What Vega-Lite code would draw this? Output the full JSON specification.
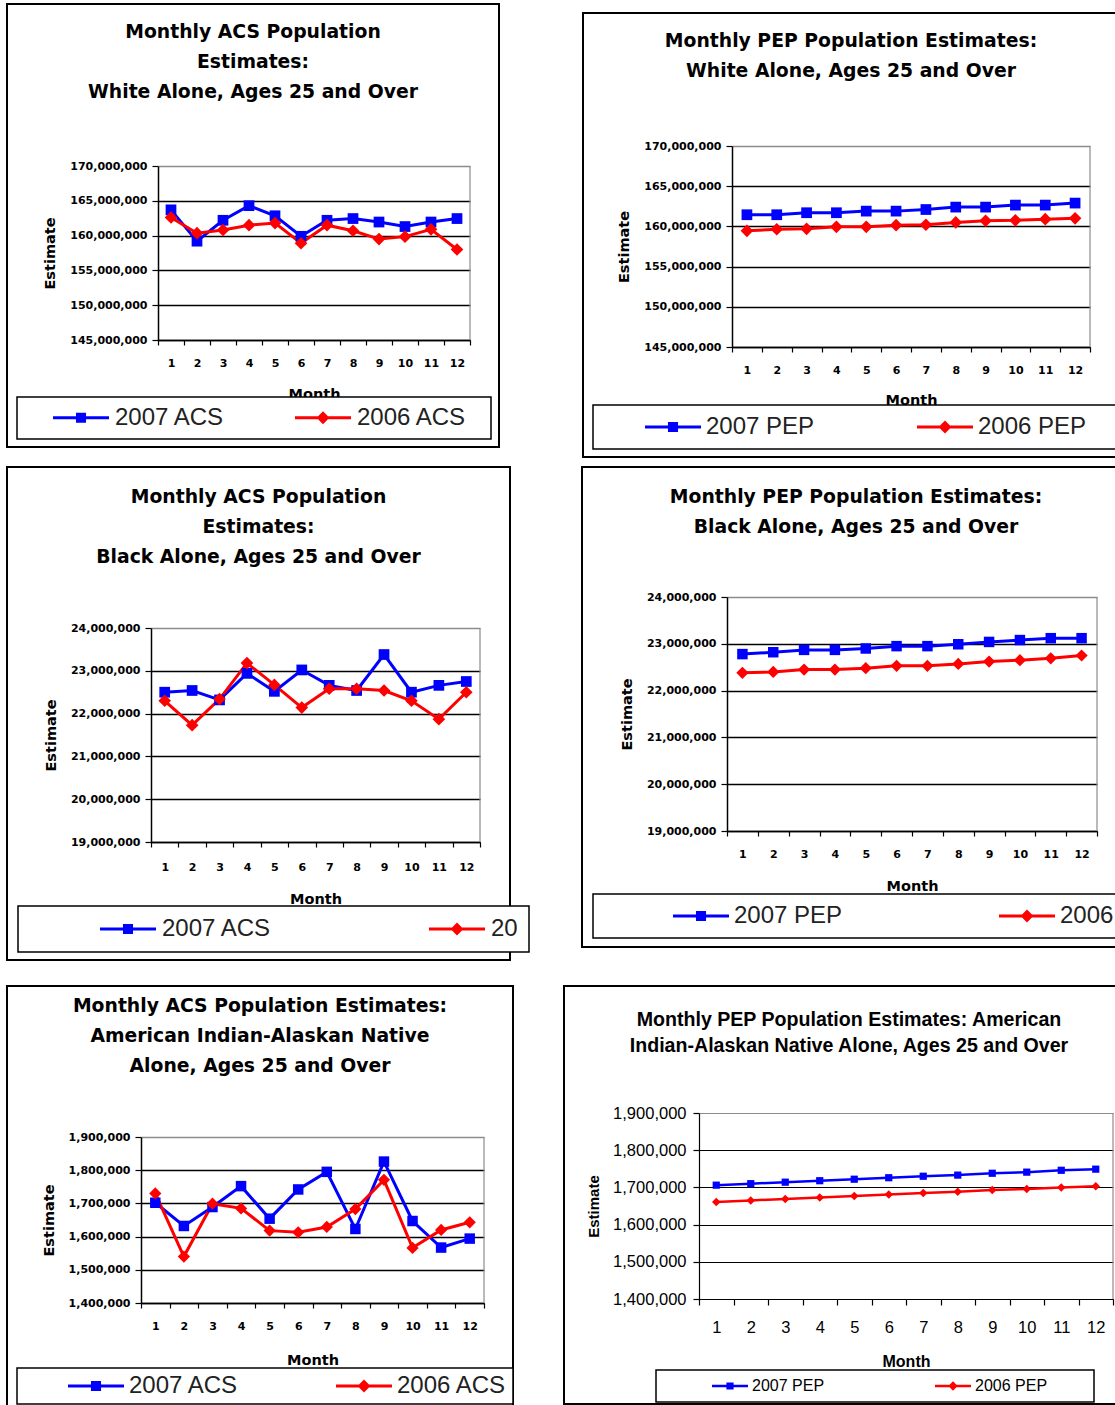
{
  "$schema": "https://vega.github.io/schema/vega-lite/v6.json",
  "padding": {"left": 6, "top": 3, "right": 0, "bottom": 0},
  "background": "#ffffff",
  "datasets": {
    "acsWhite": [
      {"month":1,"series":"2007 ACS","estimate":163700000},{"month":2,"series":"2007 ACS","estimate":159200000},{"month":3,"series":"2007 ACS","estimate":162200000},{"month":4,"series":"2007 ACS","estimate":164300000},{"month":5,"series":"2007 ACS","estimate":162850000},{"month":6,"series":"2007 ACS","estimate":159900000},{"month":7,"series":"2007 ACS","estimate":162200000},{"month":8,"series":"2007 ACS","estimate":162450000},{"month":9,"series":"2007 ACS","estimate":161950000},{"month":10,"series":"2007 ACS","estimate":161300000},{"month":11,"series":"2007 ACS","estimate":161950000},{"month":12,"series":"2007 ACS","estimate":162450000},
      {"month":1,"series":"2006 ACS","estimate":162600000},{"month":2,"series":"2006 ACS","estimate":160350000},{"month":3,"series":"2006 ACS","estimate":160800000},{"month":4,"series":"2006 ACS","estimate":161500000},{"month":5,"series":"2006 ACS","estimate":161800000},{"month":6,"series":"2006 ACS","estimate":158900000},{"month":7,"series":"2006 ACS","estimate":161500000},{"month":8,"series":"2006 ACS","estimate":160700000},{"month":9,"series":"2006 ACS","estimate":159500000},{"month":10,"series":"2006 ACS","estimate":159850000},{"month":11,"series":"2006 ACS","estimate":160900000},{"month":12,"series":"2006 ACS","estimate":158000000}
    ],
    "pepWhite": [
      {"month":1,"series":"2007 PEP","estimate":161450000},{"month":2,"series":"2007 PEP","estimate":161450000},{"month":3,"series":"2007 PEP","estimate":161700000},{"month":4,"series":"2007 PEP","estimate":161700000},{"month":5,"series":"2007 PEP","estimate":161900000},{"month":6,"series":"2007 PEP","estimate":161900000},{"month":7,"series":"2007 PEP","estimate":162100000},{"month":8,"series":"2007 PEP","estimate":162400000},{"month":9,"series":"2007 PEP","estimate":162400000},{"month":10,"series":"2007 PEP","estimate":162650000},{"month":11,"series":"2007 PEP","estimate":162650000},{"month":12,"series":"2007 PEP","estimate":162900000},
      {"month":1,"series":"2006 PEP","estimate":159450000},{"month":2,"series":"2006 PEP","estimate":159650000},{"month":3,"series":"2006 PEP","estimate":159700000},{"month":4,"series":"2006 PEP","estimate":159950000},{"month":5,"series":"2006 PEP","estimate":159950000},{"month":6,"series":"2006 PEP","estimate":160150000},{"month":7,"series":"2006 PEP","estimate":160200000},{"month":8,"series":"2006 PEP","estimate":160500000},{"month":9,"series":"2006 PEP","estimate":160700000},{"month":10,"series":"2006 PEP","estimate":160750000},{"month":11,"series":"2006 PEP","estimate":160900000},{"month":12,"series":"2006 PEP","estimate":161000000}
    ],
    "acsBlack": [
      {"month":1,"series":"2007 ACS","estimate":22500000},{"month":2,"series":"2007 ACS","estimate":22540000},{"month":3,"series":"2007 ACS","estimate":22320000},{"month":4,"series":"2007 ACS","estimate":22940000},{"month":5,"series":"2007 ACS","estimate":22520000},{"month":6,"series":"2007 ACS","estimate":23020000},{"month":7,"series":"2007 ACS","estimate":22660000},{"month":8,"series":"2007 ACS","estimate":22540000},{"month":9,"series":"2007 ACS","estimate":23380000},{"month":10,"series":"2007 ACS","estimate":22500000},{"month":11,"series":"2007 ACS","estimate":22660000},{"month":12,"series":"2007 ACS","estimate":22750000},
      {"month":1,"series":"2006 ACS","estimate":22300000},{"month":2,"series":"2006 ACS","estimate":21730000},{"month":3,"series":"2006 ACS","estimate":22340000},{"month":4,"series":"2006 ACS","estimate":23180000},{"month":5,"series":"2006 ACS","estimate":22670000},{"month":6,"series":"2006 ACS","estimate":22140000},{"month":7,"series":"2006 ACS","estimate":22580000},{"month":8,"series":"2006 ACS","estimate":22580000},{"month":9,"series":"2006 ACS","estimate":22540000},{"month":10,"series":"2006 ACS","estimate":22300000},{"month":11,"series":"2006 ACS","estimate":21870000},{"month":12,"series":"2006 ACS","estimate":22500000}
    ],
    "pepBlack": [
      {"month":1,"series":"2007 PEP","estimate":22780000},{"month":2,"series":"2007 PEP","estimate":22820000},{"month":3,"series":"2007 PEP","estimate":22870000},{"month":4,"series":"2007 PEP","estimate":22870000},{"month":5,"series":"2007 PEP","estimate":22900000},{"month":6,"series":"2007 PEP","estimate":22950000},{"month":7,"series":"2007 PEP","estimate":22950000},{"month":8,"series":"2007 PEP","estimate":22990000},{"month":9,"series":"2007 PEP","estimate":23040000},{"month":10,"series":"2007 PEP","estimate":23080000},{"month":11,"series":"2007 PEP","estimate":23120000},{"month":12,"series":"2007 PEP","estimate":23120000},
      {"month":1,"series":"2006 PEP","estimate":22380000},{"month":2,"series":"2006 PEP","estimate":22400000},{"month":3,"series":"2006 PEP","estimate":22450000},{"month":4,"series":"2006 PEP","estimate":22450000},{"month":5,"series":"2006 PEP","estimate":22480000},{"month":6,"series":"2006 PEP","estimate":22530000},{"month":7,"series":"2006 PEP","estimate":22530000},{"month":8,"series":"2006 PEP","estimate":22570000},{"month":9,"series":"2006 PEP","estimate":22620000},{"month":10,"series":"2006 PEP","estimate":22650000},{"month":11,"series":"2006 PEP","estimate":22690000},{"month":12,"series":"2006 PEP","estimate":22750000}
    ],
    "acsAian": [
      {"month":1,"series":"2007 ACS","estimate":1702000},{"month":2,"series":"2007 ACS","estimate":1632000},{"month":3,"series":"2007 ACS","estimate":1689000},{"month":4,"series":"2007 ACS","estimate":1752000},{"month":5,"series":"2007 ACS","estimate":1654000},{"month":6,"series":"2007 ACS","estimate":1742000},{"month":7,"series":"2007 ACS","estimate":1795000},{"month":8,"series":"2007 ACS","estimate":1623000},{"month":9,"series":"2007 ACS","estimate":1826000},{"month":10,"series":"2007 ACS","estimate":1647000},{"month":11,"series":"2007 ACS","estimate":1567000},{"month":12,"series":"2007 ACS","estimate":1594000},
      {"month":1,"series":"2006 ACS","estimate":1730000},{"month":2,"series":"2006 ACS","estimate":1540000},{"month":3,"series":"2006 ACS","estimate":1699000},{"month":4,"series":"2006 ACS","estimate":1685000},{"month":5,"series":"2006 ACS","estimate":1618000},{"month":6,"series":"2006 ACS","estimate":1613000},{"month":7,"series":"2006 ACS","estimate":1629000},{"month":8,"series":"2006 ACS","estimate":1683000},{"month":9,"series":"2006 ACS","estimate":1771000},{"month":10,"series":"2006 ACS","estimate":1566000},{"month":11,"series":"2006 ACS","estimate":1620000},{"month":12,"series":"2006 ACS","estimate":1643000}
    ],
    "pepAian": [
      {"month":1,"series":"2007 PEP","estimate":1706000},{"month":2,"series":"2007 PEP","estimate":1710000},{"month":3,"series":"2007 PEP","estimate":1714000},{"month":4,"series":"2007 PEP","estimate":1718000},{"month":5,"series":"2007 PEP","estimate":1722000},{"month":6,"series":"2007 PEP","estimate":1726000},{"month":7,"series":"2007 PEP","estimate":1730000},{"month":8,"series":"2007 PEP","estimate":1733000},{"month":9,"series":"2007 PEP","estimate":1738000},{"month":10,"series":"2007 PEP","estimate":1741000},{"month":11,"series":"2007 PEP","estimate":1746000},{"month":12,"series":"2007 PEP","estimate":1749000},
      {"month":1,"series":"2006 PEP","estimate":1661000},{"month":2,"series":"2006 PEP","estimate":1665000},{"month":3,"series":"2006 PEP","estimate":1669000},{"month":4,"series":"2006 PEP","estimate":1673000},{"month":5,"series":"2006 PEP","estimate":1677000},{"month":6,"series":"2006 PEP","estimate":1681000},{"month":7,"series":"2006 PEP","estimate":1685000},{"month":8,"series":"2006 PEP","estimate":1688000},{"month":9,"series":"2006 PEP","estimate":1693000},{"month":10,"series":"2006 PEP","estimate":1696000},{"month":11,"series":"2006 PEP","estimate":1700000},{"month":12,"series":"2006 PEP","estimate":1703000}
    ]
  },
  "vconcat": [
    {
      "vconcat": [
        {
          "hconcat": [
            {
              "width": 492, "height": 443,
              "view": {"stroke": "#000", "strokeWidth": 2},
              "title": {"text": ["Monthly ACS Population", "Estimates:", "White Alone, Ages 25 and Over"], "offset": -98},
              "data": {"name": "acsWhite"},
              "layer": [
                {"mark": {"type": "line", "strokeWidth": 3},
                 "encoding": {
                   "x": {"field": "month", "type": "quantitative", "scale": {"domain": [0.5, 12.5], "range": [151, 463], "nice": false, "zero": false},
                         "axis": {"values": [1,2,3,4,5,6,7,8,9,10,11,12], "offset": -107, "ticks": false, "tickSize": 0, "labelPadding": 17, "grid": false, "title": "Month", "titlePadding": 19}},
                   "y": {"field": "estimate", "type": "quantitative", "scale": {"domain": [145000000, 170000000], "range": [336, 162], "nice": false, "zero": false},
                         "axis": {"values": [145000000,150000000,155000000,160000000,165000000,170000000], "format": ",.0f", "offset": -151, "tickSize": 6, "labelPadding": 5, "grid": true, "gridColor": {"condition": {"test": "datum.value == 170000000", "value": "#8c8c8c"}, "value": "#000"}, "title": "Estimate", "titlePadding": 12}},
                   "color": {"field": "series", "type": "nominal", "scale": {"domain": ["2007 ACS", "2006 ACS"], "range": ["#0000ff", "#ff0000"]},
                         "legend": {"legendX": 10, "legendY": 393, "padding": 9, "clipHeight": 23, "symbolSize": 3136, "symbolOffset": 27, "labelOffset": 6, "columnPadding": 43,
                                    "title": "\u00a0", "titleOrient": "right", "titlePadding": 16, "titleFontSize": 1,
                                    "encoding": {"symbols": {"shape": {"condition": {"test": "datum.index == 1", "value": "M-1,-0.055H1V0.055H-1Z M0,-0.23L0.23,0L0,0.23L-0.23,0Z"}, "value": "M-1,-0.055H1V0.055H-1Z M-0.18,-0.18H0.18V0.18H-0.18Z"}, "fill": {"condition": {"test": "datum.index == 1", "value": "#ff0000"}, "value": "#0000ff"}, "fillOpacity": {"value": 1}, "opacity": {"value": 1}, "strokeWidth": {"value": 0}, "size": {"value": 3136}}}}}
                 }},
                {"transform": [{"filter": "datum.series == '2007 ACS'"}],
                 "mark": {"type": "point", "filled": true, "opacity": 1, "shape": "square", "size": 115},
                 "encoding": {
                   "x": {"field": "month", "type": "quantitative", "axis": null},
                   "y": {"field": "estimate", "type": "quantitative", "axis": null},
                   "color": {"field": "series", "type": "nominal", "legend": null}
                 }},
                {"transform": [{"filter": "datum.series == '2006 ACS'"}],
                 "mark": {"type": "point", "filled": true, "opacity": 1, "shape": "diamond", "size": 160},
                 "encoding": {
                   "x": {"field": "month", "type": "quantitative", "axis": null},
                   "y": {"field": "estimate", "type": "quantitative", "axis": null},
                   "color": {"field": "series", "type": "nominal", "legend": null}
                 }},
                {"data": {"values": [{}]},
                 "mark": {"type": "rule", "color": "#8c8c8c", "strokeWidth": 1.2},
                 "encoding": {
                   "x": {"datum": 12.5, "type": "quantitative", "axis": {"orient": "bottom", "values": [0.5,1.5,2.5,3.5,4.5,5.5,6.5,7.5,8.5,9.5,10.5,11.5,12.5], "offset": -107, "labels": false, "domain": false, "grid": false, "ticks": true, "tickSize": 5, "title": null}},
                   "y": {"datum": 145000000, "type": "quantitative", "axis": null},
                   "y2": {"datum": 170000000}
                 }}
              ],
              "resolve": {"axis": {"x": "independent", "y": "independent"}}
            },
            {
              "vconcat": [
                {"width": 1, "height": 1, "data": {"values": []}, "mark": "point"},
                {
                  "width": 536, "height": 444,
                  "view": {"stroke": "#000", "strokeWidth": 2},
                  "title": {"text": ["Monthly PEP Population Estimates:", "White Alone, Ages 25 and Over"], "offset": -68},
                  "data": {"name": "pepWhite"},
                  "layer": [
                    {"mark": {"type": "line", "strokeWidth": 3},
                     "encoding": {
                       "x": {"field": "month", "type": "quantitative", "scale": {"domain": [0.5, 12.5], "range": [149, 507], "nice": false, "zero": false},
                             "axis": {"values": [1,2,3,4,5,6,7,8,9,10,11,12], "offset": -110, "ticks": false, "tickSize": 0, "labelPadding": 17, "grid": false, "title": "Month", "titlePadding": 18}},
                       "y": {"field": "estimate", "type": "quantitative", "scale": {"domain": [145000000, 170000000], "range": [334, 133], "nice": false, "zero": false},
                             "axis": {"values": [145000000,150000000,155000000,160000000,165000000,170000000], "format": ",.0f", "offset": -149, "tickSize": 6, "labelPadding": 5, "grid": true, "gridColor": {"condition": {"test": "datum.value == 170000000", "value": "#8c8c8c"}, "value": "#000"}, "title": "Estimate", "titlePadding": 12}},
                       "color": {"field": "series", "type": "nominal", "scale": {"domain": ["2007 PEP", "2006 PEP"], "range": ["#0000ff", "#ff0000"]},
                             "legend": {"legendX": 10, "legendY": 392, "padding": 10, "clipHeight": 24, "symbolSize": 3136, "symbolOffset": 42, "labelOffset": 5, "columnPadding": 60,
                                        "title": "\u00a0", "titleOrient": "right", "titlePadding": 34, "titleFontSize": 1,
                                        "encoding": {"symbols": {"shape": {"condition": {"test": "datum.index == 1", "value": "M-1,-0.055H1V0.055H-1Z M0,-0.23L0.23,0L0,0.23L-0.23,0Z"}, "value": "M-1,-0.055H1V0.055H-1Z M-0.18,-0.18H0.18V0.18H-0.18Z"}, "fill": {"condition": {"test": "datum.index == 1", "value": "#ff0000"}, "value": "#0000ff"}, "fillOpacity": {"value": 1}, "opacity": {"value": 1}, "strokeWidth": {"value": 0}, "size": {"value": 3136}}}}}
                     }},
                    {"transform": [{"filter": "datum.series == '2007 PEP'"}],
                     "mark": {"type": "point", "filled": true, "opacity": 1, "shape": "square", "size": 115},
                     "encoding": {
                       "x": {"field": "month", "type": "quantitative", "axis": null},
                       "y": {"field": "estimate", "type": "quantitative", "axis": null},
                       "color": {"field": "series", "type": "nominal", "legend": null}
                     }},
                    {"transform": [{"filter": "datum.series == '2006 PEP'"}],
                     "mark": {"type": "point", "filled": true, "opacity": 1, "shape": "diamond", "size": 160},
                     "encoding": {
                       "x": {"field": "month", "type": "quantitative", "axis": null},
                       "y": {"field": "estimate", "type": "quantitative", "axis": null},
                       "color": {"field": "series", "type": "nominal", "legend": null}
                     }},
                    {"data": {"values": [{}]},
                     "mark": {"type": "rule", "color": "#8c8c8c", "strokeWidth": 1.2},
                     "encoding": {
                       "x": {"datum": 12.5, "type": "quantitative", "axis": {"orient": "bottom", "values": [0.5,1.5,2.5,3.5,4.5,5.5,6.5,7.5,8.5,9.5,10.5,11.5,12.5], "offset": -110, "labels": false, "domain": false, "grid": false, "ticks": true, "tickSize": 5, "title": null}},
                       "y": {"datum": 145000000, "type": "quantitative", "axis": null},
                       "y2": {"datum": 170000000}
                     }}
                  ],
                  "resolve": {"axis": {"x": "independent", "y": "independent"}}
                }
              ],
              "spacing": 8,
              "bounds": "flush",
              "resolve": {"scale": {"x": "independent", "y": "independent", "color": "independent"}, "legend": {"color": "independent"}}
            }
          ],
          "spacing": 82,
          "bounds": "full",
          "resolve": {"scale": {"x": "independent", "y": "independent", "color": "independent"}, "legend": {"color": "independent"}}
        },
        {
          "hconcat": [
            {
              "width": 503, "height": 493,
              "view": {"stroke": "#000", "strokeWidth": 2},
              "title": {"text": ["Monthly ACS Population", "Estimates:", "Black Alone, Ages 25 and Over"], "offset": -100},
              "data": {"name": "acsBlack"},
              "layer": [
                {"mark": {"type": "line", "strokeWidth": 3},
                 "encoding": {
                   "x": {"field": "month", "type": "quantitative", "scale": {"domain": [0.5, 12.5], "range": [144, 473], "nice": false, "zero": false},
                         "axis": {"values": [1,2,3,4,5,6,7,8,9,10,11,12], "offset": -118, "ticks": false, "tickSize": 0, "labelPadding": 19, "grid": false, "title": "Month", "titlePadding": 20}},
                   "y": {"field": "estimate", "type": "quantitative", "scale": {"domain": [19000000, 24000000], "range": [375, 161], "nice": false, "zero": false},
                         "axis": {"values": [19000000,20000000,21000000,22000000,23000000,24000000], "format": ",.0f", "offset": -144, "tickSize": 6, "labelPadding": 5, "grid": true, "gridColor": {"condition": {"test": "datum.value == 24000000", "value": "#8c8c8c"}, "value": "#000"}, "title": "Estimate", "titlePadding": 12}},
                   "color": {"field": "series", "type": "nominal", "scale": {"domain": ["2007 ACS", "2006 ACS"], "range": ["#0000ff", "#ff0000"]},
                         "legend": {"legendX": 11, "legendY": 439, "padding": 11, "clipHeight": 24, "symbolSize": 3136, "symbolOffset": 71, "labelOffset": 6, "columnPadding": 86,
                                    "labelExpr": "datum.label == '2006 ACS' ? '20' : datum.label",
                                    "encoding": {"symbols": {"shape": {"condition": {"test": "datum.index == 1", "value": "M-1,-0.055H1V0.055H-1Z M0,-0.23L0.23,0L0,0.23L-0.23,0Z"}, "value": "M-1,-0.055H1V0.055H-1Z M-0.18,-0.18H0.18V0.18H-0.18Z"}, "fill": {"condition": {"test": "datum.index == 1", "value": "#ff0000"}, "value": "#0000ff"}, "fillOpacity": {"value": 1}, "opacity": {"value": 1}, "strokeWidth": {"value": 0}, "size": {"value": 3136}}}}}
                 }},
                {"transform": [{"filter": "datum.series == '2007 ACS'"}],
                 "mark": {"type": "point", "filled": true, "opacity": 1, "shape": "square", "size": 115},
                 "encoding": {
                   "x": {"field": "month", "type": "quantitative", "axis": null},
                   "y": {"field": "estimate", "type": "quantitative", "axis": null},
                   "color": {"field": "series", "type": "nominal", "legend": null}
                 }},
                {"transform": [{"filter": "datum.series == '2006 ACS'"}],
                 "mark": {"type": "point", "filled": true, "opacity": 1, "shape": "diamond", "size": 160},
                 "encoding": {
                   "x": {"field": "month", "type": "quantitative", "axis": null},
                   "y": {"field": "estimate", "type": "quantitative", "axis": null},
                   "color": {"field": "series", "type": "nominal", "legend": null}
                 }},
                {"data": {"values": [{}]},
                 "mark": {"type": "rule", "color": "#8c8c8c", "strokeWidth": 1.2},
                 "encoding": {
                   "x": {"datum": 12.5, "type": "quantitative", "axis": {"orient": "bottom", "values": [0.5,1.5,2.5,3.5,4.5,5.5,6.5,7.5,8.5,9.5,10.5,11.5,12.5], "offset": -118, "labels": false, "domain": false, "grid": false, "ticks": true, "tickSize": 5, "title": null}},
                   "y": {"datum": 19000000, "type": "quantitative", "axis": null},
                   "y2": {"datum": 24000000}
                 }}
              ],
              "resolve": {"axis": {"x": "independent", "y": "independent"}}
            },
            {
              "width": 548, "height": 480,
              "view": {"stroke": "#000", "strokeWidth": 2},
              "title": {"text": ["Monthly PEP Population Estimates:", "Black Alone, Ages 25 and Over"], "offset": -70},
              "data": {"name": "pepBlack"},
              "layer": [
                {"mark": {"type": "line", "strokeWidth": 3},
                 "encoding": {
                   "x": {"field": "month", "type": "quantitative", "scale": {"domain": [0.5, 12.5], "range": [145, 515], "nice": false, "zero": false},
                         "axis": {"values": [1,2,3,4,5,6,7,8,9,10,11,12], "offset": -116, "ticks": false, "tickSize": 0, "labelPadding": 17, "grid": false, "title": "Month", "titlePadding": 20}},
                   "y": {"field": "estimate", "type": "quantitative", "scale": {"domain": [19000000, 24000000], "range": [364, 130], "nice": false, "zero": false},
                         "axis": {"values": [19000000,20000000,21000000,22000000,23000000,24000000], "format": ",.0f", "offset": -145, "tickSize": 6, "labelPadding": 5, "grid": true, "gridColor": {"condition": {"test": "datum.value == 24000000", "value": "#8c8c8c"}, "value": "#000"}, "title": "Estimate", "titlePadding": 12}},
                   "color": {"field": "series", "type": "nominal", "scale": {"domain": ["2007 PEP", "2006 PEP"], "range": ["#0000ff", "#ff0000"]},
                         "legend": {"legendX": 11, "legendY": 427, "padding": 10, "clipHeight": 24, "symbolSize": 3136, "symbolOffset": 70, "labelOffset": 5, "columnPadding": 86,
                                    "encoding": {"symbols": {"shape": {"condition": {"test": "datum.index == 1", "value": "M-1,-0.055H1V0.055H-1Z M0,-0.23L0.23,0L0,0.23L-0.23,0Z"}, "value": "M-1,-0.055H1V0.055H-1Z M-0.18,-0.18H0.18V0.18H-0.18Z"}, "fill": {"condition": {"test": "datum.index == 1", "value": "#ff0000"}, "value": "#0000ff"}, "fillOpacity": {"value": 1}, "opacity": {"value": 1}, "strokeWidth": {"value": 0}, "size": {"value": 3136}}}}}
                 }},
                {"transform": [{"filter": "datum.series == '2007 PEP'"}],
                 "mark": {"type": "point", "filled": true, "opacity": 1, "shape": "square", "size": 110},
                 "encoding": {
                   "x": {"field": "month", "type": "quantitative", "axis": null},
                   "y": {"field": "estimate", "type": "quantitative", "axis": null},
                   "color": {"field": "series", "type": "nominal", "legend": null}
                 }},
                {"transform": [{"filter": "datum.series == '2006 PEP'"}],
                 "mark": {"type": "point", "filled": true, "opacity": 1, "shape": "diamond", "size": 150},
                 "encoding": {
                   "x": {"field": "month", "type": "quantitative", "axis": null},
                   "y": {"field": "estimate", "type": "quantitative", "axis": null},
                   "color": {"field": "series", "type": "nominal", "legend": null}
                 }},
                {"data": {"values": [{}]},
                 "mark": {"type": "rule", "color": "#8c8c8c", "strokeWidth": 1.2},
                 "encoding": {
                   "x": {"datum": 12.5, "type": "quantitative", "axis": {"orient": "bottom", "values": [0.5,1.5,2.5,3.5,4.5,5.5,6.5,7.5,8.5,9.5,10.5,11.5,12.5], "offset": -116, "labels": false, "domain": false, "grid": false, "ticks": true, "tickSize": 5, "title": null}},
                   "y": {"datum": 19000000, "type": "quantitative", "axis": null},
                   "y2": {"datum": 24000000}
                 }}
              ],
              "resolve": {"axis": {"x": "independent", "y": "independent"}}
            }
          ],
          "spacing": 72,
          "bounds": "flush",
          "resolve": {"scale": {"x": "independent", "y": "independent", "color": "independent"}, "legend": {"color": "independent"}}
        }
      ],
      "spacing": 8,
      "bounds": "full",
      "resolve": {"scale": {"x": "independent", "y": "independent", "color": "independent"}, "legend": {"color": "independent"}}
    },
    {
      "hconcat": [
        {
          "width": 506, "height": 440,
          "view": {"stroke": "#000", "strokeWidth": 2},
          "title": {"text": ["Monthly ACS Population Estimates:", "American Indian-Alaskan Native", "Alone, Ages 25 and Over"], "offset": -90},
          "data": {"name": "acsAian"},
          "layer": [
            {"mark": {"type": "line", "strokeWidth": 3},
             "encoding": {
               "x": {"field": "month", "type": "quantitative", "scale": {"domain": [0.5, 12.5], "range": [134, 477], "nice": false, "zero": false},
                     "axis": {"values": [1,2,3,4,5,6,7,8,9,10,11,12], "offset": -123, "ticks": false, "tickSize": 0, "labelPadding": 17, "grid": false, "title": "Month", "titlePadding": 22}},
               "y": {"field": "estimate", "type": "quantitative", "scale": {"domain": [1400000, 1900000], "range": [317, 151], "nice": false, "zero": false},
                     "axis": {"values": [1400000,1500000,1600000,1700000,1800000,1900000], "format": ",.0f", "offset": -134, "tickSize": 6, "labelPadding": 5, "grid": true, "gridColor": {"condition": {"test": "datum.value == 1900000", "value": "#8c8c8c"}, "value": "#000"}, "title": "Estimate", "titlePadding": 12}},
               "color": {"field": "series", "type": "nominal", "scale": {"domain": ["2007 ACS", "2006 ACS"], "range": ["#0000ff", "#ff0000"]},
                     "legend": {"legendX": 10, "legendY": 382, "padding": 6, "clipHeight": 24, "symbolSize": 3136, "symbolOffset": 45, "labelOffset": 5, "columnPadding": 52,
                                "encoding": {"symbols": {"shape": {"condition": {"test": "datum.index == 1", "value": "M-1,-0.055H1V0.055H-1Z M0,-0.23L0.23,0L0,0.23L-0.23,0Z"}, "value": "M-1,-0.055H1V0.055H-1Z M-0.18,-0.18H0.18V0.18H-0.18Z"}, "fill": {"condition": {"test": "datum.index == 1", "value": "#ff0000"}, "value": "#0000ff"}, "fillOpacity": {"value": 1}, "opacity": {"value": 1}, "strokeWidth": {"value": 0}, "size": {"value": 3136}}}}}
             }},
            {"transform": [{"filter": "datum.series == '2007 ACS'"}],
             "mark": {"type": "point", "filled": true, "opacity": 1, "shape": "square", "size": 110},
             "encoding": {
               "x": {"field": "month", "type": "quantitative", "axis": null},
               "y": {"field": "estimate", "type": "quantitative", "axis": null},
               "color": {"field": "series", "type": "nominal", "legend": null}
             }},
            {"transform": [{"filter": "datum.series == '2006 ACS'"}],
             "mark": {"type": "point", "filled": true, "opacity": 1, "shape": "diamond", "size": 150},
             "encoding": {
               "x": {"field": "month", "type": "quantitative", "axis": null},
               "y": {"field": "estimate", "type": "quantitative", "axis": null},
               "color": {"field": "series", "type": "nominal", "legend": null}
             }},
            {"data": {"values": [{}]},
             "mark": {"type": "rule", "color": "#8c8c8c", "strokeWidth": 1.2},
             "encoding": {
               "x": {"datum": 12.5, "type": "quantitative", "axis": {"orient": "bottom", "values": [0.5,1.5,2.5,3.5,4.5,5.5,6.5,7.5,8.5,9.5,10.5,11.5,12.5], "offset": -123, "labels": false, "domain": false, "grid": false, "ticks": true, "tickSize": 5, "title": null}},
               "y": {"datum": 1400000, "type": "quantitative", "axis": null},
               "y2": {"datum": 1900000}
             }}
          ],
          "resolve": {"axis": {"x": "independent", "y": "independent"}}
        },
        {
          "width": 570, "height": 418,
          "view": {"stroke": "#000", "strokeWidth": 2},
          "title": {"text": ["Monthly PEP Population Estimates:  American", "Indian-Alaskan Native Alone, Ages 25 and Over"], "offset": -71, "font": "Liberation Sans", "fontSize": 19.6, "lineHeight": 26},
          "data": {"name": "pepAian"},
          "layer": [
            {"mark": {"type": "line", "strokeWidth": 2.5},
             "encoding": {
               "x": {"field": "month", "type": "quantitative", "scale": {"domain": [0.5, 12.5], "range": [135, 549], "nice": false, "zero": false},
                     "axis": {"values": [1,2,3,4,5,6,7,8,9,10,11,12], "offset": -105, "ticks": false, "tickSize": 0, "labelPadding": 20, "grid": false, "domainWidth": 1.2, "labelFont": "Liberation Sans", "labelFontWeight": "normal", "labelFontSize": 16.5, "title": "Month", "titleFont": "Liberation Sans", "titleFontSize": 16, "titlePadding": 18}},
               "y": {"field": "estimate", "type": "quantitative", "scale": {"domain": [1400000, 1900000], "range": [313, 127], "nice": false, "zero": false},
                     "axis": {"values": [1400000,1500000,1600000,1700000,1800000,1900000], "format": ",.0f", "offset": -135, "tickSize": 6, "labelPadding": 7, "grid": true, "gridWidth": 1, "domainWidth": 1.2, "gridColor": {"condition": {"test": "datum.value == 1900000", "value": "#8c8c8c"}, "value": "#000"}, "labelFont": "Liberation Sans", "labelFontWeight": "normal", "labelFontSize": 16.5, "title": "Estimate", "titleFont": "Liberation Sans", "titleFontSize": 15, "titlePadding": 11}},
               "color": {"field": "series", "type": "nominal", "scale": {"domain": ["2007 PEP", "2006 PEP"], "range": ["#0000ff", "#ff0000"]},
                     "legend": {"legendX": 92, "legendY": 384, "padding": 8, "clipHeight": 16, "symbolSize": 1296, "symbolOffset": 48, "labelOffset": 4, "columnPadding": 62, "labelFontSize": 16, "labelColor": "#000",
                                "title": "\u00a0", "titleOrient": "right", "titlePadding": 39, "titleFontSize": 1,
                                "encoding": {"symbols": {"shape": {"condition": {"test": "datum.index == 1", "value": "M-1,-0.07H1V0.07H-1Z M0,-0.26L0.26,0L0,0.26L-0.26,0Z"}, "value": "M-1,-0.07H1V0.07H-1Z M-0.2,-0.2H0.2V0.2H-0.2Z"}, "fill": {"condition": {"test": "datum.index == 1", "value": "#ff0000"}, "value": "#0000ff"}, "fillOpacity": {"value": 1}, "opacity": {"value": 1}, "strokeWidth": {"value": 0}, "size": {"value": 1296}}}}}
             }},
            {"transform": [{"filter": "datum.series == '2007 PEP'"}],
             "mark": {"type": "point", "filled": true, "opacity": 1, "shape": "square", "size": 52},
             "encoding": {
               "x": {"field": "month", "type": "quantitative", "axis": null},
               "y": {"field": "estimate", "type": "quantitative", "axis": null},
               "color": {"field": "series", "type": "nominal", "legend": null}
             }},
            {"transform": [{"filter": "datum.series == '2006 PEP'"}],
             "mark": {"type": "point", "filled": true, "opacity": 1, "shape": "diamond", "size": 72},
             "encoding": {
               "x": {"field": "month", "type": "quantitative", "axis": null},
               "y": {"field": "estimate", "type": "quantitative", "axis": null},
               "color": {"field": "series", "type": "nominal", "legend": null}
             }},
            {"data": {"values": [{}]},
             "mark": {"type": "rule", "color": "#8c8c8c", "strokeWidth": 1.2},
             "encoding": {
               "x": {"datum": 12.5, "type": "quantitative", "axis": {"orient": "bottom", "values": [0.5,1.5,2.5,3.5,4.5,5.5,6.5,7.5,8.5,9.5,10.5,11.5,12.5], "offset": -105, "labels": false, "domain": false, "grid": false, "ticks": true, "tickSize": 6, "title": null}},
               "y": {"datum": 1400000, "type": "quantitative", "axis": null},
               "y2": {"datum": 1900000}
             }}
          ],
          "resolve": {"axis": {"x": "independent", "y": "independent"}}
        }
      ],
      "spacing": 51,
      "bounds": "flush",
      "resolve": {"scale": {"x": "independent", "y": "independent", "color": "independent"}, "legend": {"color": "independent"}}
    }
  ],
  "spacing": 24,
  "bounds": "full",
  "resolve": {"scale": {"x": "independent", "y": "independent", "color": "independent"}, "legend": {"color": "independent"}},
  "config": {
    "view": {"stroke": null},
    "axis": {
      "labelFont": "DejaVu Sans", "labelFontWeight": "bold", "labelFontSize": 11, "labelColor": "#000",
      "titleFont": "DejaVu Sans", "titleFontWeight": "bold", "titleFontSize": 14.5, "titleColor": "#000",
      "domainColor": "#000", "domainWidth": 1.5, "tickColor": "#000", "tickWidth": 1.2,
      "gridColor": "#000", "gridWidth": 1.3, "labelOverlap": false, "labelFlush": false
    },
    "legend": {
      "orient": "none", "direction": "horizontal", "columns": 2, "title": null,
      "labelFont": "Liberation Sans", "labelFontSize": 24, "labelColor": "#222",
      "strokeColor": "#000", "strokeWidth": 1.5, "fillColor": "#ffffff",
      "symbolType": "M-1,-0.055H1V0.055H-1Z M-0.18,-0.18H0.18V0.18H-0.18Z", "labelLimit": 400
    },
    "title": {"font": "DejaVu Sans", "fontWeight": "bold", "fontSize": 18.8, "lineHeight": 30, "color": "#000", "baseline": "top", "frame": "group", "anchor": "middle"}
  }
}
